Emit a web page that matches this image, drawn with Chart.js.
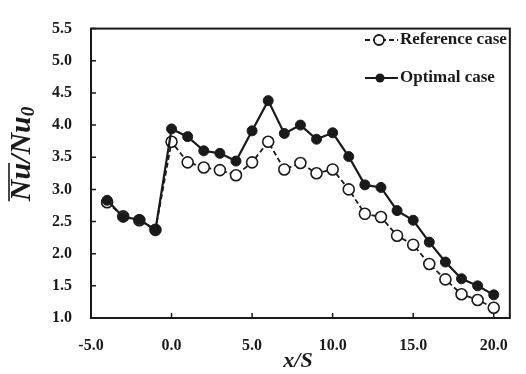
<!DOCTYPE html>
<html>
<head>
<meta charset="utf-8">
<script src="https://cdn.jsdelivr.net/npm/chart.js@4.4.1/dist/chart.umd.min.js"></script>
<style>
  html, body { margin: 0; padding: 0; background: #fff; }
</style>
</head>
<body>
<canvas id="myChart" width="526" height="374"></canvas>
<script>
// data
const xValues = [-4, -3, -2, -1, 0, 1, 2, 3, 4, 5, 6, 7, 8, 9, 10, 11, 12, 13, 14, 15, 16, 17, 18, 19, 20];
const referenceCase = [2.80, 2.58, 2.52, 2.37, 3.74, 3.42, 3.34, 3.30, 3.22, 3.42, 3.74, 3.31, 3.41, 3.25, 3.31, 3.00, 2.62, 2.57, 2.28, 2.14, 1.84, 1.60, 1.37, 1.28, 1.16];
const optimalCase = [2.83, 2.57, 2.53, 2.37, 3.94, 3.82, 3.60, 3.56, 3.44, 3.91, 4.38, 3.87, 4.00, 3.78, 3.88, 3.51, 3.07, 3.03, 2.67, 2.52, 2.18, 1.87, 1.61, 1.50, 1.36];
const xTicks = [-5, 0, 5, 10, 15, 20];
const seriesNames = ['Reference case', 'Optimal case'];

const ink = '#1a1a1a';
const serif = "'Liberation Serif', 'Times New Roman', serif";

const toPoints = (vals) => xValues.map((x, i) => ({ x: x, y: vals[i] }));

// frame, inward tick marks, axis titles and the legend box
const decorations = {
  id: 'decorations',
  afterDraw(chart) {
    const { ctx, chartArea: a, scales } = chart;
    ctx.save();
    ctx.strokeStyle = ink;
    ctx.lineWidth = 2;
    ctx.strokeRect(a.left, a.top, a.right - a.left, a.bottom - a.top);

    ctx.lineWidth = 1.5;
    ctx.beginPath();
    scales.y.ticks.forEach(t => {
      const py = scales.y.getPixelForValue(t.value);
      ctx.moveTo(a.left, py);
      ctx.lineTo(a.left + 5, py);
    });
    scales.x.ticks.forEach(t => {
      const px = scales.x.getPixelForValue(t.value);
      ctx.moveTo(px, a.bottom);
      ctx.lineTo(px, a.bottom - 5);
    });
    ctx.stroke();

    // x title
    ctx.fillStyle = ink;
    ctx.font = 'italic bold 22px ' + serif;
    ctx.textAlign = 'center';
    ctx.textBaseline = 'middle';
    ctx.fillText('x/S', 298, 361);

    // y title: overline on Nu, subscript 0
    ctx.save();
    ctx.translate(22, 154);
    ctx.rotate(-Math.PI / 2);
    ctx.font = 'italic bold 30px ' + serif;
    ctx.textAlign = 'left';
    ctx.textBaseline = 'middle';
    const main = 'Nu/Nu';
    const sub = '0';
    const wMain = ctx.measureText(main).width;
    const wNu = ctx.measureText('Nu').width;
    ctx.font = 'italic bold 19px ' + serif;
    const wSub = ctx.measureText(sub).width;
    const x0 = -(wMain + wSub) / 2;
    ctx.font = 'italic bold 30px ' + serif;
    ctx.fillText(main, x0, 0);
    ctx.font = 'italic bold 19px ' + serif;
    ctx.fillText(sub, x0 + wMain, 7);
    ctx.lineWidth = 1.6;
    ctx.beginPath();
    ctx.moveTo(x0, -13);
    ctx.lineTo(x0 + wNu, -13);
    ctx.stroke();
    ctx.restore();

    // legend
    ctx.font = 'bold 17px ' + serif;
    ctx.textAlign = 'left';
    ctx.textBaseline = 'middle';
    const rows = [40, 78];
    // reference
    ctx.lineWidth = 1.8;
    ctx.setLineDash([5, 3]);
    ctx.beginPath();
    ctx.moveTo(365, rows[0]);
    ctx.lineTo(398, rows[0]);
    ctx.stroke();
    ctx.setLineDash([]);
    ctx.beginPath();
    ctx.arc(379, rows[0], 5, 0, Math.PI * 2);
    ctx.fillStyle = '#fff';
    ctx.fill();
    ctx.stroke();
    ctx.fillStyle = ink;
    ctx.fillText(seriesNames[0], 400, rows[0]);
    // optimal
    ctx.lineWidth = 2.2;
    ctx.beginPath();
    ctx.moveTo(365, rows[1]);
    ctx.lineTo(398, rows[1]);
    ctx.stroke();
    ctx.beginPath();
    ctx.arc(380, rows[1], 4.5, 0, Math.PI * 2);
    ctx.fill();
    ctx.fillText(seriesNames[1], 400, rows[1]);
    ctx.restore();
  }
};

const ctx = document.getElementById('myChart').getContext('2d');
const myChart = new Chart(ctx, {
  type: 'line',
  data: {
    datasets: [{
      label: seriesNames[1],
      data: toPoints(optimalCase),
      borderColor: ink,
      borderWidth: 2.2,
      pointRadius: 5,
      pointBackgroundColor: ink,
      pointBorderColor: ink,
      pointBorderWidth: 1,
      tension: 0
    }, {
      label: seriesNames[0],
      data: toPoints(referenceCase),
      borderColor: ink,
      borderWidth: 1.8,
      borderDash: [5, 3],
      pointRadius: 5.5,
      pointBackgroundColor: '#fff',
      pointBorderColor: ink,
      pointBorderWidth: 1.6,
      tension: 0
    }]
  },
  options: {
    responsive: false,
    animation: false,
    layout: { padding: { top: 10, right: 3, left: 0, bottom: 0 } },
    plugins: {
      legend: { display: false },
      tooltip: { enabled: false }
    },
    scales: {
      x: {
        type: 'linear',
        min: -5,
        max: 21,
        afterBuildTicks: (scale) => { scale.ticks = xTicks.map(v => ({ value: v })); },
        afterFit: (scale) => { scale.height = 56; },
        grid: { display: false, drawTicks: false },
        border: { display: false },
        ticks: {
          padding: 18,
          color: ink,
          font: { family: serif, size: 16, weight: 'bold' },
          callback: (v) => Number(v).toFixed(1)
        }
      },
      y: {
        min: 1,
        max: 5.5,
        afterFit: (scale) => { scale.width = 91; },
        grid: { display: false, drawTicks: false },
        border: { display: false },
        ticks: {
          stepSize: 0.5,
          padding: 19,
          color: ink,
          font: { family: serif, size: 16, weight: 'bold' },
          callback: (v) => Number(v).toFixed(1)
        }
      }
    }
  },
  plugins: [decorations]
});
</script>
</body>
</html>
